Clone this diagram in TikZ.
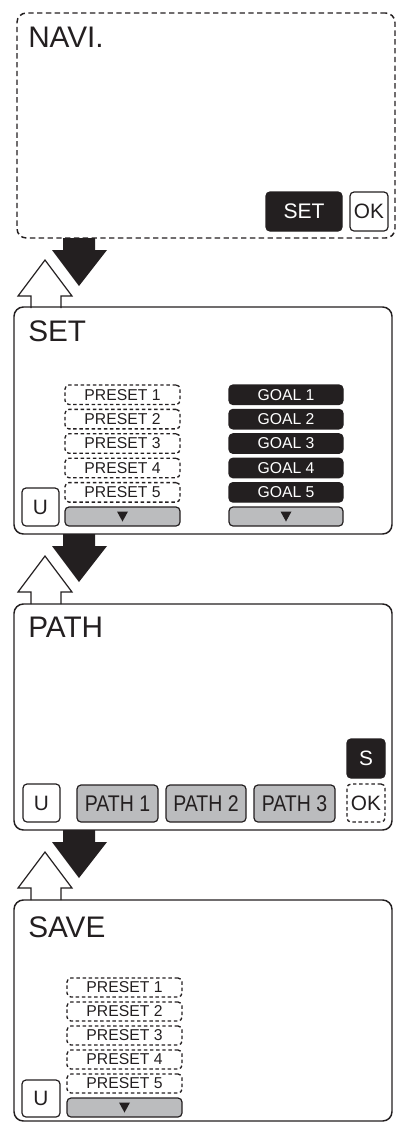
\documentclass[tikz,border=0pt]{standalone}
\usepackage{fontspec}
\usepackage{graphicx}
\setmainfont{Liberation Sans}
\definecolor{ink}{HTML}{231F20}
\definecolor{greyfill}{HTML}{BBBCBE}
% box from (x1,y1) to (x2,y2) in px: #1 style, #2 name, #3-#6 corners, #7 text
\newcommand{\pxbox}[7]{%
  \pgfmathsetmacro{\bxcx}{(#3+#5)/2}%
  \pgfmathsetmacro{\bxcy}{(#4+#6)/2}%
  \pgfmathsetmacro{\bxw}{(#5-#3)*0.75}%
  \pgfmathsetmacro{\bxh}{(#6-#4)*0.75}%
  \node[#1, minimum width=\bxw pt, minimum height=\bxh pt, anchor=center] (#2) at (\bxcx,\bxcy) {#7};%
}
\newcommand{\narrow}[1]{\scalebox{0.86}[1]{#1}}
\begin{document}
\begin{tikzpicture}[x=0.75pt,y=-0.75pt,
  panelbox/.style={draw=ink, line width=1.1pt, rounded corners=7pt, inner sep=0pt},
  paneldash/.style={panelbox, dash pattern=on 4pt off 2.6pt},
  btn/.style={draw=ink, line width=0.9pt, rounded corners=3pt, inner sep=0pt, text=ink},
  blackbtn/.style={btn, fill=ink, text=white},
  greybtn/.style={btn, fill=greyfill},
  dashbtn/.style={btn, line width=1pt, dash pattern=on 2.6pt off 2pt},
  whitebtn/.style={btn, fill=white},
  titletext/.style={anchor=base west, inner sep=0pt, text=ink, font=\fontsize{22.3}{26}\selectfont},
  bigtext/.style={font=\fontsize{15.6}{18}\selectfont},
  settext/.style={font=\fontsize{15.8}{18}\selectfont},
  pathtext/.style={font=\fontsize{17}{20}\selectfont},
  smalltext/.style={font=\fontsize{11.8}{13}\selectfont},
  blackarrow/.style={fill=ink},
  whitearrow/.style={draw=ink, line width=0.9pt, fill=white, line join=miter}
]
\useasboundingbox (0,0) rectangle (400,1122);

% ---------- arrows ----------
\foreach \T in {238,534,830}{
  \fill[blackarrow] (63,\T) -- (95,\T) -- (95,\T+12) -- (107,\T+12) -- (79,\T+48)
     -- (52,\T+12) -- (63,\T+12) -- cycle;
  \filldraw[whitearrow] (31,\T+70) -- (31,\T+58) -- (18,\T+58) -- (45,\T+22)
     -- (72,\T+58) -- (61,\T+58) -- (61,\T+70);
}

% ---------- panel 1: NAVI ----------
\pxbox{paneldash}{navi}{17}{13}{395}{238}{}
\node[titletext] (navititle) at (28,47) {NAVI.};
\pxbox{blackbtn, settext}{naviset}{266}{192}{342}{231}{SET}
\pxbox{whitebtn, bigtext}{naviok}{350}{192}{388}{231}{OK}

% ---------- panel 2: SET ----------
\pxbox{panelbox}{setp}{14}{307}{392}{534}{}
\node[titletext] (settitle) at (28,341) {SET};
\foreach \i in {1,...,5}{
  \pgfmathsetmacro{\btop}{385+24.4*(\i-1)}
  \pgfmathsetmacro{\bbot}{\btop+19.5}
  \pxbox{dashbtn, smalltext}{setpre\i}{65}{\btop}{180}{\bbot}{PRESET \i}
  \pxbox{blackbtn, smalltext}{setgoal\i}{229}{\btop}{343}{\bbot}{GOAL \i}
}
\pxbox{greybtn}{setbarL}{65}{507}{180}{526}{}
\pxbox{greybtn}{setbarR}{229}{507}{343}{526}{}
\fill[ink, shift={(setbarL.center)}] (-5.5,-5) -- (5.5,-5) -- (0,5) -- cycle;
\fill[ink, shift={(setbarR.center)}] (-5.5,-5) -- (5.5,-5) -- (0,5) -- cycle;
\pxbox{whitebtn, bigtext}{setu}{22}{488}{59}{526}{U}

% ---------- panel 3: PATH ----------
\pxbox{panelbox}{pathp}{14}{604}{392}{830}{}
\node[titletext] (pathtitle) at (28,637) {PATH};
\pxbox{blackbtn, bigtext}{paths}{347}{739}{385}{778}{S}
\pxbox{whitebtn, bigtext}{pathu}{23}{784}{60}{822}{U}
\pxbox{greybtn, pathtext}{path1}{77}{785}{158}{822}{\narrow{PATH 1}}
\pxbox{greybtn, pathtext}{path2}{166}{785}{246}{822}{\narrow{PATH 2}}
\pxbox{greybtn, pathtext}{path3}{254}{785}{335}{822}{\narrow{PATH 3}}
\pxbox{dashbtn, bigtext}{pathok}{347}{784}{385}{822}{OK}

% ---------- panel 4: SAVE ----------
\pxbox{panelbox}{savep}{14}{900}{392}{1121}{}
\node[titletext] (savetitle) at (28,937) {SAVE};
\foreach \i in {1,...,5}{
  \pgfmathsetmacro{\btop}{978+24*(\i-1)}
  \pgfmathsetmacro{\bbot}{\btop+19}
  \pxbox{dashbtn, smalltext}{savepre\i}{67}{\btop}{182}{\bbot}{PRESET \i}
}
\pxbox{greybtn}{savebar}{67}{1098}{182}{1117}{}
\fill[ink, shift={(savebar.center)}] (-5.5,-5) -- (5.5,-5) -- (0,5) -- cycle;
\pxbox{whitebtn, bigtext}{saveu}{22}{1080}{60}{1117}{U}
\end{tikzpicture}
\end{document}
